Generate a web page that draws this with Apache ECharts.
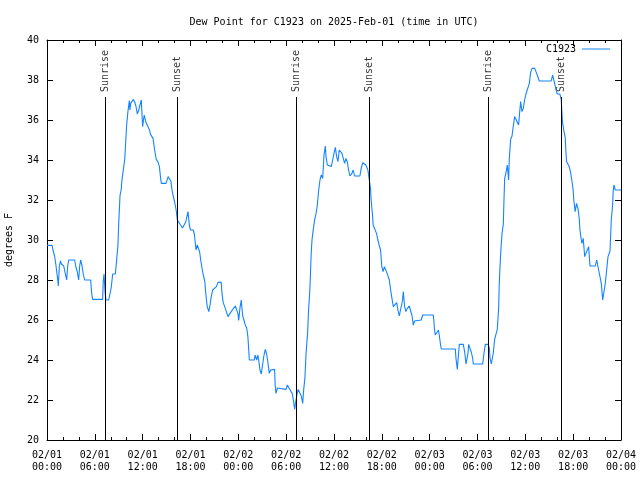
<!DOCTYPE html>
<html>
<head>
<meta charset="utf-8">
<script src="https://cdn.jsdelivr.net/npm/echarts@6/dist/echarts.min.js"></script>
<style>html,body{margin:0;padding:0;background:#fff}#c{width:640px;height:480px}</style>
</head>
<body>
<div id="c"></div>
<script>
// Hours since 2025-02-01 00:00 UTC
var hours = [0.0,0.63,0.75,0.95,1.1,1.25,1.35,1.42,1.55,1.7,1.8,2.1,2.25,2.47,2.6,2.72,3.47,3.6,3.8,3.97,4.1,4.22,4.4,4.55,4.72,5.48,5.6,5.73,6.98,7.05,7.15,7.3,7.4,7.73,7.9,8.05,8.24,8.57,8.74,8.9,8.99,9.16,9.3,9.41,9.58,9.75,9.85,9.99,10.15,10.33,10.4,10.5,10.65,10.83,11.0,11.15,11.33,11.5,11.66,11.83,11.9,12.0,12.1,12.2,12.4,12.6,12.83,13.0,13.3,13.5,13.7,13.9,14.1,14.24,14.34,14.93,15.2,15.4,15.55,15.65,15.8,16.0,16.2,16.35,16.6,16.75,17.0,17.19,17.4,17.55,17.69,17.85,18.0,18.35,18.5,18.69,18.85,19.0,19.15,19.28,19.45,19.6,19.8,19.9,20.0,20.1,20.3,20.45,20.6,20.78,21.0,21.25,21.45,21.85,21.95,22.1,22.35,22.5,22.7,22.85,23.1,23.35,23.62,23.85,23.95,24.05,24.2,24.37,24.45,24.55,24.7,24.87,25.05,25.2,25.38,26.0,26.1,26.3,26.45,26.55,26.72,26.88,27.1,27.2,27.38,27.55,27.7,27.88,28.05,28.13,28.55,28.62,28.72,28.9,29.98,30.15,30.35,30.6,30.75,30.9,31.07,31.15,31.32,31.5,31.75,31.9,32.07,32.2,32.35,32.5,32.7,32.8,32.97,33.05,33.13,33.24,33.4,33.58,33.75,33.91,34.08,34.24,34.41,34.58,34.75,34.91,35.0,35.16,35.41,35.66,35.83,36.0,36.17,36.33,36.5,36.66,36.75,37.0,37.16,37.33,37.5,37.66,37.83,38.0,38.25,38.41,38.58,39.25,39.41,39.6,39.75,40.0,40.25,40.4,40.58,40.66,40.85,40.91,41.16,41.33,41.5,41.66,41.84,42.0,42.16,42.33,42.5,42.66,42.94,43.1,43.27,43.44,43.69,43.86,44.02,44.19,44.44,44.6,44.69,44.86,45.02,45.19,45.44,45.6,45.77,45.94,46.1,46.27,46.94,47.13,48.46,48.62,48.7,48.95,49.1,49.2,49.37,49.46,51.22,51.3,51.47,51.64,51.72,52.22,52.39,52.56,52.72,52.81,52.89,53.06,53.22,53.39,53.47,54.65,54.82,54.98,55.32,55.49,55.57,55.73,55.82,55.98,56.15,56.4,56.48,56.65,56.73,56.9,57.07,57.24,57.32,57.41,57.57,57.74,57.9,57.99,58.16,58.33,58.49,58.66,58.91,59.16,59.24,59.41,59.58,59.74,59.91,60.08,60.33,60.5,60.66,60.84,61.17,61.42,61.59,61.75,63.25,63.42,63.6,63.67,63.84,64.0,64.33,64.5,64.58,64.66,64.83,65.0,65.08,65.17,65.33,65.5,65.66,65.83,66.0,66.08,66.25,66.42,66.6,66.76,66.85,67.01,67.1,67.26,67.45,67.6,67.77,67.94,68.11,68.78,68.95,69.2,69.36,69.53,69.7,69.86,70.03,70.2,70.37,70.62,70.78,70.95,71.03,71.12,71.28,72.0];
var dewPoint = [29.73,29.73,29.5,29.2,28.8,28.7,28.0,27.7,28.7,28.96,28.8,28.7,28.4,28.0,28.7,29.0,29.0,28.7,28.4,28.0,28.7,29.0,28.7,28.3,28.0,28.0,27.33,27.03,27.03,27.9,28.3,27.33,27.0,27.0,27.3,27.6,28.3,28.3,29.0,29.77,30.77,32.23,32.5,33.03,33.53,34.03,34.75,35.75,36.42,36.97,36.5,36.83,36.75,37.03,36.9,36.7,36.3,36.5,36.75,37.0,36.4,35.67,36.0,36.25,35.9,35.8,35.53,35.27,35.08,34.5,34.03,33.92,33.67,33.13,32.83,32.83,33.17,33.17,32.92,32.58,32.25,31.92,31.5,31.0,31.0,30.75,30.6,30.5,30.9,31.17,31.42,30.75,30.5,30.5,30.25,29.5,29.75,29.8,29.4,29.0,28.58,28.25,27.92,27.42,27.0,26.67,26.42,26.75,27.17,27.5,27.58,27.67,27.88,27.88,27.33,26.88,26.88,26.42,26.17,26.25,26.42,26.5,26.7,26.7,26.33,25.98,26.6,27.0,26.6,26.2,26.0,25.75,25.6,25.17,24.0,24.0,24.25,24.0,24.25,24.0,23.5,23.3,23.3,24.2,24.53,24.3,23.9,23.33,23.5,23.53,23.53,22.75,22.33,22.6,22.53,22.75,22.6,22.53,22.33,22.0,21.53,21.8,22.2,22.53,22.53,22.2,21.83,22.53,23.08,24.37,25.42,26.42,27.5,28.33,29.25,30.0,30.53,31.03,31.33,31.75,32.5,33.0,33.25,33.08,34.25,34.7,34.17,33.75,33.67,33.67,34.0,34.33,34.63,34.17,33.92,34.5,34.53,34.33,34.08,33.83,34.08,33.92,33.5,33.2,33.33,33.5,33.2,33.2,33.58,33.87,33.92,33.75,33.5,33.08,32.58,32.0,31.17,30.75,30.75,30.33,30.0,29.75,29.5,28.67,28.42,28.67,28.67,28.33,28.0,27.5,27.08,26.67,26.67,26.87,26.5,26.2,26.2,27.0,27.42,26.67,26.42,26.58,26.7,26.7,26.25,25.75,25.95,26.0,26.0,26.25,26.25,25.5,25.25,25.35,25.5,25.25,24.75,24.55,24.55,24.08,23.53,24.4,24.78,24.78,24.4,23.8,23.8,24.35,24.78,24.78,24.4,24.1,23.8,23.8,24.35,24.78,24.78,24.6,24.1,23.8,24.0,24.35,25.03,25.03,25.53,26.58,27.83,29.3,30.3,30.8,32.0,33.08,33.37,33.75,33.0,34.08,35.03,35.2,35.7,36.17,36.25,35.75,36.17,36.92,36.42,36.58,37.0,37.3,37.37,37.83,38.37,38.58,38.58,38.33,38.25,37.95,37.95,38.25,38.3,37.83,37.53,37.3,37.3,37.03,36.42,35.92,35.47,35.13,34.5,33.92,33.83,33.67,33.42,33.0,32.5,32.0,31.42,31.83,31.58,31.08,30.5,30.03,29.83,30.08,29.17,29.33,29.5,29.67,28.7,28.7,29.0,29.0,28.17,27.83,27.0,27.0,27.83,28.5,29.17,29.45,31.0,31.75,32.5,32.75,32.5,32.5];

var xTickLabels = ['02/01\n00:00','02/01\n06:00','02/01\n12:00','02/01\n18:00','02/02\n00:00','02/02\n06:00','02/02\n12:00','02/02\n18:00','02/03\n00:00','02/03\n06:00','02/03\n12:00','02/03\n18:00','02/04\n00:00'];
var sunNames = ['Sunrise','Sunset','Sunrise','Sunset','Sunrise','Sunset'];
var sunHours = [7.28, 16.37, 31.23, 40.39, 55.32, 64.48];

var FONT = 'DejaVu Sans Mono';
var LINE_COLOR = '#1384ff';
var seriesData = hours.map(function (h, i) { return [h, dewPoint[i]]; });
var sunLines = sunHours.map(function (h) { return [{coord: [h, 20]}, {coord: [h, 37.15]}]; });
var sunLabels = sunHours.map(function (h, i) { return {value: [h, 37.4], name: sunNames[i]}; });

var chart = echarts.init(document.getElementById('c'), null, {renderer: 'canvas'});
var xCommon = {
  type: 'value', min: 0, max: 72, interval: 6,
  axisLine: {show: true, onZero: false, lineStyle: {color: '#000', width: 1}},
  axisTick: {show: true, inside: true, length: 6, lineStyle: {color: '#000'}},
  minorTick: {show: true, splitNumber: 3, length: 3, lineStyle: {color: '#000'}},
  splitLine: {show: false}
};
var yCommon = {
  type: 'value', min: 20, max: 40, interval: 2,
  axisLine: {show: true, onZero: false, lineStyle: {color: '#000', width: 1}},
  axisTick: {show: true, inside: true, length: 6, lineStyle: {color: '#000'}},
  splitLine: {show: false}
};
chart.setOption({
  animation: false,
  backgroundColor: '#fff',
  title: {
    text: 'Dew Point for C1923 on 2025-Feb-01 (time in UTC)',
    left: 329, top: 12, textAlign: 'center',
    textStyle: {fontFamily: FONT, fontSize: 10, fontWeight: 'normal', color: '#000'}
  },
  legend: {
    data: [{name: 'C1923', icon: 'rect'}], right: 25, top: 39, align: 'right',
    itemWidth: 28, itemHeight: 1, itemGap: 4,
    textStyle: {fontFamily: FONT, fontSize: 10, color: '#000', padding: [0, 1, 0, 0]}
  },
  grid: {left: 47, right: 19, top: 40, bottom: 40, containLabel: false, outerBoundsMode: 'none'},
  xAxis: [
    Object.assign({}, xCommon, {
      position: 'bottom',
      axisLabel: {
        fontFamily: FONT, fontSize: 10, color: '#000', margin: 9, lineHeight: 12,
        formatter: function (v) { return xTickLabels[Math.round(v / 6)]; }
      }
    }),
    Object.assign({}, xCommon, {position: 'top', axisLabel: {show: false}})
  ],
  yAxis: [
    Object.assign({}, yCommon, {
      position: 'left',
      name: 'degrees F', nameLocation: 'middle', nameGap: 33, nameRotate: 90,
      nameTextStyle: {fontFamily: FONT, fontSize: 10, color: '#000'},
      axisLabel: {fontFamily: FONT, fontSize: 10, color: '#000', margin: 8}
    }),
    Object.assign({}, yCommon, {position: 'right', axisLabel: {show: false}})
  ],
  series: [
    {
      name: 'C1923', type: 'line', data: seriesData, symbol: 'none',
      xAxisIndex: 0, yAxisIndex: 0,
      lineStyle: {color: LINE_COLOR, width: 1.1}, itemStyle: {color: LINE_COLOR},
      z: 3,
      markLine: {
        silent: true, symbol: ['none', 'none'], animation: false,
        label: {show: false},
        lineStyle: {color: '#000', width: 1, type: 'solid'},
        emphasis: {disabled: true},
        data: sunLines
      }
    },
    {
      name: 'sun', type: 'scatter', data: sunLabels, symbolSize: 0,
      xAxisIndex: 0, yAxisIndex: 0, silent: true,
      label: {
        show: true, position: 'inside', rotate: 90, align: 'left', verticalAlign: 'middle',
        formatter: function (p) { return p.name; },
        fontFamily: FONT, fontSize: 10, color: '#000'
      }
    }
  ]
});
</script>
</body>
</html>
